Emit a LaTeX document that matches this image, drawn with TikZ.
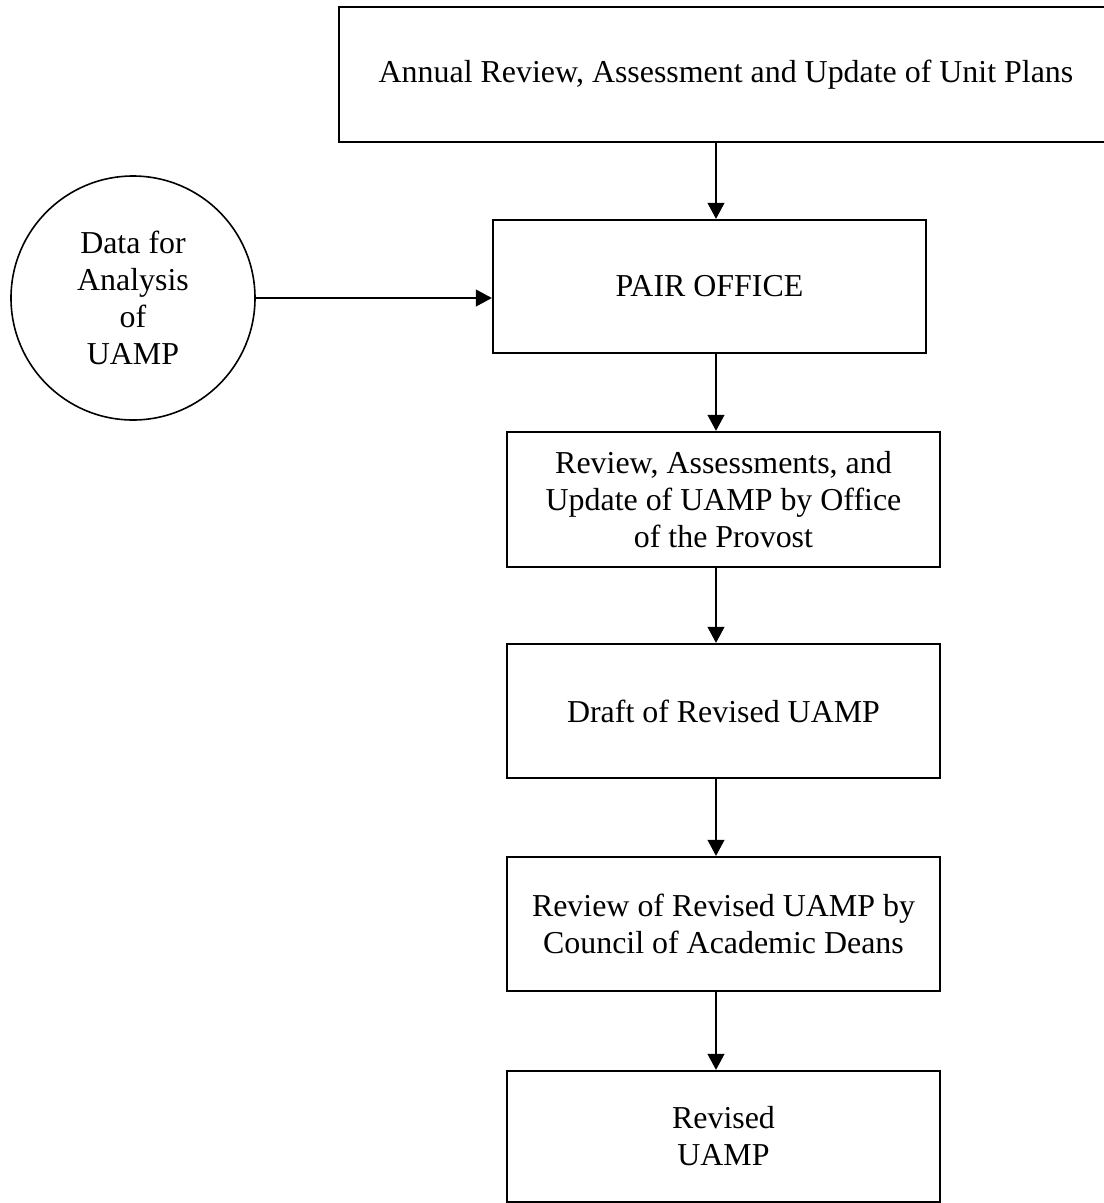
\documentclass[tikz,border=0pt]{standalone}
\usepackage{fontspec}
\setmainfont{Liberation Serif}
\usetikzlibrary{arrows.meta}

\newcommand*{\px}{0.376pt}
\newcommand*{\spinex}{716}

\begin{document}
\begin{tikzpicture}
[
	x=\px, y=-\px,
	stepbox/.style={rectangle,draw,line width=0.8pt,align=center,inner sep=0pt,
		font=\fontsize{12}{13.9}\selectfont,minimum width=433*\px,minimum height=134*\px},
	datacirc/.style={circle,draw,line width=0.6pt,align=center,inner sep=0pt,
		font=\fontsize{12}{13.9}\selectfont,minimum size=244*\px},
	flow/.style={-{Triangle[length=6pt,width=6.2pt]},line width=0.8pt}
]

	\useasboundingbox (0,0) rectangle (1103,1203);

	% boxes
	\node[stepbox,minimum width=774*\px,minimum height=135*\px] (annual) at (726,74.5)
		{Annual Review, Assessment and Update of Unit Plans};
	\node[stepbox,minimum height=133*\px] (pair) at (709.5,286.5) {PAIR OFFICE};
	\node[stepbox,minimum height=135*\px] (provost) at (723.5,499.5)
		{Review, Assessments, and\\Update of UAMP by Office\\of the Provost};
	\node[stepbox] (draft) at (723.5,711) {Draft of Revised UAMP};
	\node[stepbox] (deans) at (723.5,924)
		{Review of Revised UAMP by\\Council of Academic Deans};
	\node[stepbox,minimum height=131*\px] (revised) at (723.5,1136.5) {Revised\\UAMP};

	% data source
	\node[datacirc] (data) at (133,298) {Data for\\Analysis\\of\\UAMP};

	% flow
	\coordinate (spine) at (\spinex,0);
	\draw[flow] (annual.south -| spine) -- (pair.north -| spine);
	\draw[flow] (pair.south -| spine) -- (provost.north -| spine);
	\draw[flow] (provost.south -| spine) -- (draft.north -| spine);
	\draw[flow] (draft.south -| spine) -- (deans.north -| spine);
	\draw[flow] (deans.south -| spine) -- (revised.north -| spine);

	\draw[flow] (data.east) -- (data.east -| pair.west);

\end{tikzpicture}
\end{document}
